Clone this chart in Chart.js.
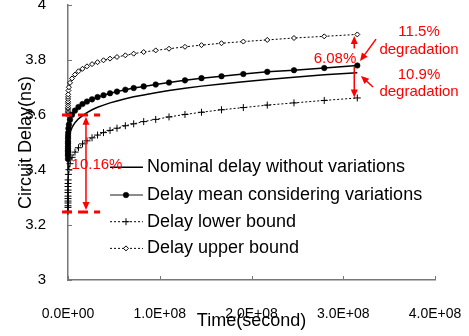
<!DOCTYPE html>
<html>
<head>
<meta charset="utf-8">
<script src="https://cdn.jsdelivr.net/npm/chart.js@4.4.1/dist/chart.umd.min.js"></script>
<style>
  html, body { margin: 0; padding: 0; background: #fff; }
</style>
</head>
<body>
<canvas id="delayChart" width="469" height="336"></canvas>
<script>
// Time samples (seconds)
const timeSec = [0, 1, 10, 100, 300, 1e3, 3e3, 1e4, 2e4, 5e4, 1e5, 2e5, 5e5, 1e6,
  2.2e6, 4.4e6, 7.6e6, 1.14e7, 1.58e7, 2.07e7, 2.62e7, 3.22e7, 3.87e7, 4.58e7,
  5.34e7, 6.25e7, 7.16e7, 8.25e7, 9.56e7, 1.101e8, 1.275e8, 1.455e8, 1.673e8,
  1.911e8, 2.172e8, 2.463e8, 2.793e8, 3.153e8];

// Circuit delay (ns)
const nominalDelay = [3.395, 3.404, 3.409, 3.416, 3.421, 3.427, 3.435, 3.445, 3.452, 3.463,
  3.473, 3.484, 3.500, 3.515, 3.535, 3.555, 3.572, 3.586, 3.598, 3.609, 3.619, 3.628,
  3.636, 3.644, 3.651, 3.659, 3.666, 3.673, 3.681, 3.689, 3.697, 3.705, 3.713, 3.721,
  3.729, 3.737, 3.746, 3.754];
const meanDelay = [3.440, 3.452, 3.458, 3.466, 3.471, 3.479, 3.487, 3.497, 3.504, 3.515,
  3.524, 3.535, 3.551, 3.565, 3.583, 3.601, 3.616, 3.629, 3.640, 3.649, 3.657, 3.665,
  3.672, 3.679, 3.685, 3.692, 3.698, 3.704, 3.711, 3.718, 3.726, 3.734, 3.741, 3.749,
  3.757, 3.763, 3.771, 3.780];
const lowerDelay = [3.250, 3.264, 3.270, 3.280, 3.287, 3.296, 3.305, 3.318, 3.327, 3.340,
  3.351, 3.364, 3.384, 3.401, 3.423, 3.446, 3.465, 3.481, 3.495, 3.506, 3.517, 3.527,
  3.536, 3.544, 3.552, 3.561, 3.568, 3.576, 3.584, 3.593, 3.602, 3.610, 3.619, 3.627,
  3.636, 3.644, 3.653, 3.662];
const upperDelay = [3.600, 3.608, 3.612, 3.618, 3.623, 3.628, 3.635, 3.643, 3.649, 3.658,
  3.666, 3.675, 3.689, 3.701, 3.717, 3.733, 3.747, 3.759, 3.768, 3.777, 3.785, 3.792,
  3.799, 3.805, 3.811, 3.817, 3.823, 3.829, 3.835, 3.841, 3.848, 3.854, 3.861, 3.867,
  3.873, 3.880, 3.886, 3.893];

const seriesNames = ['Nominal delay without variations', 'Delay mean considering variations',
  'Delay lower bound', 'Delay upper bound'];

const FONT = '"Liberation Sans", Arial, sans-serif';
const RED = '#ff0000';
const AXIS = '#777777';

function toPoints(vals) {
  return vals.map((v, i) => ({ x: timeSec[i], y: v }));
}

function sciLabel(v) {
  const parts = Number(v).toExponential(1).split('e');
  const exp = parseInt(parts[1], 10);
  const sign = exp < 0 ? '-' : '+';
  return parts[0] + 'E' + sign + String(Math.abs(exp)).padStart(2, '0');
}

function arrow(ctx, x1, y1, x2, y2) {
  const a = Math.atan2(y2 - y1, x2 - x1);
  const len = 8, half = 3.5;
  ctx.beginPath();
  ctx.moveTo(x1, y1);
  ctx.lineTo(x2 - Math.cos(a) * len * 0.8, y2 - Math.sin(a) * len * 0.8);
  ctx.stroke();
  ctx.beginPath();
  ctx.moveTo(x2, y2);
  ctx.lineTo(x2 - Math.cos(a) * len - Math.sin(a) * half, y2 - Math.sin(a) * len + Math.cos(a) * half);
  ctx.lineTo(x2 - Math.cos(a) * len + Math.sin(a) * half, y2 - Math.sin(a) * len - Math.cos(a) * half);
  ctx.closePath();
  ctx.fill();
}

// draws inside tick marks, the legend and the red annotations
const overlayPlugin = {
  id: 'overlay',
  afterDraw(chart) {
    const ctx = chart.ctx;
    const xs = chart.scales.x, ys = chart.scales.y;
    const px = v => xs.getPixelForValue(v);
    const py = v => ys.getPixelForValue(v);

    ctx.save();
    // inside ticks
    ctx.strokeStyle = AXIS;
    ctx.lineWidth = 1;
    xs.ticks.forEach(t => {
      const x = Math.round(px(t.value)) + 0.5;
      ctx.beginPath(); ctx.moveTo(x, ys.bottom); ctx.lineTo(x, ys.bottom - 4); ctx.stroke();
    });
    ys.ticks.forEach(t => {
      const y = Math.round(py(t.value)) + 0.5;
      ctx.beginPath(); ctx.moveTo(xs.left, y); ctx.lineTo(xs.left + 4, y); ctx.stroke();
    });

    // legend
    const legendY = [3.41, 3.309, 3.212, 3.115];
    const x1 = px(0.458e8), x2 = px(0.817e8), xm = px(0.632e8), xt = px(0.861e8);
    chart.data.datasets.forEach((ds, i) => {
      const y = py(legendY[i]);
      ctx.save();
      ctx.strokeStyle = i === 1 ? '#666666' : '#000000';
      ctx.lineWidth = ds.borderWidth;
      ctx.setLineDash(ds.borderDash || []);
      ctx.beginPath(); ctx.moveTo(x1, y); ctx.lineTo(x2, y); ctx.stroke();
      ctx.setLineDash([]);
      if (ds.pointRadius > 0) {
        ctx.fillStyle = ds.pointBackgroundColor;
        ctx.strokeStyle = ds.pointBorderColor;
        ctx.lineWidth = ds.pointBorderWidth;
        Chart.helpers.drawPoint(ctx, {
          pointStyle: ds.pointStyle, radius: ds.pointRadius, rotation: 0,
          borderWidth: ds.pointBorderWidth
        }, xm, y);
      }
      ctx.restore();
      ctx.fillStyle = '#000';
      ctx.font = '18px ' + FONT;
      ctx.textBaseline = 'middle';
      ctx.textAlign = 'left';
      ctx.fillText(seriesNames[i], xt, y);
    });

    // red annotations
    ctx.strokeStyle = RED;
    ctx.fillStyle = RED;
    ctx.lineWidth = 3;
    ctx.setLineDash([10, 6]);
    [3.6, 3.247].forEach(v => {
      ctx.beginPath(); ctx.moveTo(px(-0.065e8), py(v)); ctx.lineTo(px(0.35e8), py(v)); ctx.stroke();
    });
    ctx.setLineDash([]);
    ctx.lineWidth = 1.5;
    const ax = px(0.196e8);
    const mid = py(3.42);
    arrow(ctx, ax, mid, ax, py(3.594));
    arrow(ctx, ax, mid, ax, py(3.255));

    const rx = px(3.12e8);
    arrow(ctx, rx, py(3.842), rx, py(3.887));
    arrow(ctx, rx, py(3.775), rx, py(3.664));
    arrow(ctx, px(3.357e8), py(3.876), px(3.183e8), py(3.796));
    arrow(ctx, px(3.324e8), py(3.702), px(3.193e8), py(3.742));

    ctx.font = '15px ' + FONT;
    ctx.textAlign = 'center';
    ctx.textBaseline = 'middle';
    ctx.fillText('10.16%', px(0.316e8), py(3.418));
    ctx.fillText('6.08%', px(2.91e8), py(3.804));
    ctx.fillText('11.5%', px(3.826e8), py(3.902));
    ctx.fillText('degradation', px(3.826e8), py(3.836));
    ctx.fillText('10.9%', px(3.826e8), py(3.745));
    ctx.fillText('degradation', px(3.826e8), py(3.684));
    ctx.restore();
  }
};

const ctx = document.getElementById('delayChart').getContext('2d');
const delayChart = new Chart(ctx, {
  type: 'line',
  data: {
    datasets: [{
      label: seriesNames[0],
      data: toPoints(nominalDelay),
      borderColor: '#000',
      borderWidth: 1.5,
      pointRadius: 0,
      pointBackgroundColor: '#000',
      pointBorderColor: '#000',
      pointBorderWidth: 1
    }, {
      label: seriesNames[1],
      data: toPoints(meanDelay),
      borderColor: '#000',
      borderWidth: 1.5,
      pointStyle: 'circle',
      pointRadius: 2.8,
      pointBackgroundColor: '#000',
      pointBorderColor: '#000',
      pointBorderWidth: 0.5
    }, {
      label: seriesNames[2],
      data: toPoints(lowerDelay),
      borderColor: '#000',
      borderWidth: 1,
      borderDash: [2, 2],
      pointStyle: 'cross',
      pointRadius: 3.5,
      pointBackgroundColor: '#000',
      pointBorderColor: '#000',
      pointBorderWidth: 1
    }, {
      label: seriesNames[3],
      data: toPoints(upperDelay),
      borderColor: '#000',
      borderWidth: 1,
      borderDash: [2, 2],
      pointStyle: 'rectRot',
      pointRadius: 2.5,
      pointBackgroundColor: '#fff',
      pointBorderColor: '#000',
      pointBorderWidth: 1
    }]
  },
  options: {
    responsive: false,
    animation: false,
    devicePixelRatio: 1,
    clip: false,
    layout: { padding: { left: 0, right: 34, top: 5, bottom: 0 } },
    elements: { line: { tension: 0 } },
    plugins: { legend: { display: false }, tooltip: { enabled: false } },
    scales: {
      x: {
        type: 'linear',
        min: 0,
        max: 4e8,
        grid: { display: false },
        border: { color: AXIS, width: 1.5 },
        ticks: {
          stepSize: 1e8,
          padding: 18,
          color: '#000',
          font: { family: FONT, size: 14 },
          maxRotation: 0,
          callback: v => sciLabel(v)
        },
        title: {
          display: true,
          text: 'Time(second)',
          color: '#000',
          font: { family: FONT, size: 18 },
          padding: { top: 4, bottom: 4 }
        },
        afterFit(scale) {
          scale.height = 56;
          scale.paddingLeft = 0;
          scale.paddingRight = 0;
        }
      },
      y: {
        min: 3,
        max: 4,
        grid: { display: false },
        border: { color: AXIS, width: 1.5 },
        ticks: {
          stepSize: 0.2,
          padding: 14,
          color: '#000',
          font: { family: FONT, size: 15 },
          callback: v => String(Number(v.toFixed(1)))
        },
        title: {
          display: true,
          text: 'Circuit Delay(ns)',
          color: '#000',
          font: { family: FONT, size: 18 },
          padding: { top: 15, bottom: 15 }
        },
        afterFit(scale) {
          scale.width = 68;
          scale.paddingTop = 0;
          scale.paddingBottom = 0;
        }
      }
    }
  },
  plugins: [overlayPlugin]
});
</script>
</body>
</html>
